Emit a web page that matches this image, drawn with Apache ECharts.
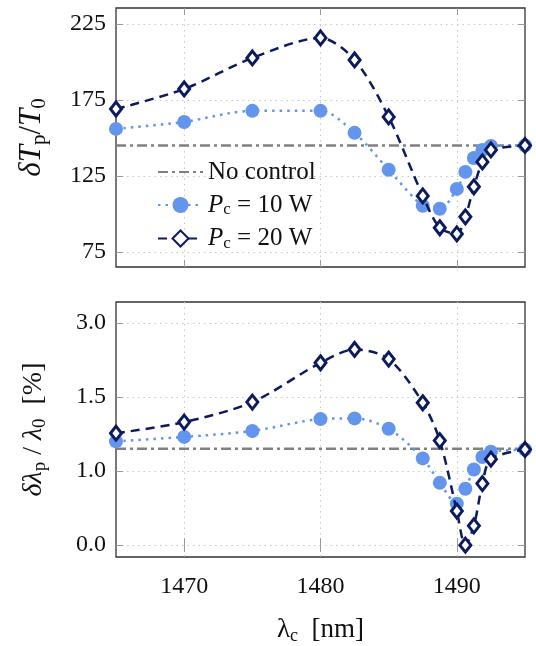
<!DOCTYPE html>
<html>
<head>
<meta charset="utf-8">
<script src="https://cdn.jsdelivr.net/npm/echarts@6/dist/echarts.min.js"></script>
<style>
  html, body { margin: 0; padding: 0; background: #fff; }
  #main { width: 536px; height: 646px; }
</style>
</head>
<body>
<div id="main"></div>
<script>
// pump wavelength (nm)
var wavelengths = [1465, 1470, 1475, 1480, 1482.5, 1485, 1487.5, 1488.75, 1490, 1490.625, 1491.25, 1491.875, 1492.5, 1495];

// top panel: dT_p / T_0
var temp10 = [155.9, 160.5, 167.8, 167.8, 153.3, 129, 105.3, 103.3, 116.4, 127.6, 136.8, 142, 144.7, 145];
var temp20 = [169, 182.2, 202.6, 215.8, 201.3, 163.8, 111.8, 90.8, 86.8, 98, 117.8, 134.2, 142.1, 145];
var tempNoControl = 145;
var tempTicks = [75, 125, 175, 225];

// bottom panel: dlambda_p / lambda_0, in axis units (ticks evenly spaced)
var shift10 = [1.40, 1.46, 1.54, 1.70, 1.71, 1.57, 1.17, 0.84, 0.56, 0.76, 1.02, 1.19, 1.26, 1.29];
var shift20 = [1.51, 1.66, 1.93, 2.46, 2.64, 2.51, 1.92, 1.41, 0.46, 0.00, 0.26, 0.83, 1.16, 1.29];
var shiftNoControl = 1.30;
var shiftTicks = [0, 1, 2, 3];
var shiftTickLabels = ['0.0', '1.0', '1.5', '3.0'];

var xTicks = [1470, 1480, 1490];
var xMin = 1465, xMax = 1495;

var serif = 'Liberation Serif';
var navy = '#0d1b5e';
var blue = '#6495ed';
var gray = '#808080';

function pairs(xs, ys) {
    return xs.map(function(x, i) { return [x, ys[i]]; });
}

function xAxisFor(grid, pos, withLabels) {
    return {
        type: 'value', gridIndex: grid, position: pos, min: xMin, max: xMax,
        axisLine: { show: false },
        axisTick: { show: true, inside: true, length: 7, customValues: xTicks, lineStyle: { color: '#999', width: 1 } },
        axisLabel: {
            show: withLabels, customValues: xTicks, formatter: function(v) { return String(v); },
            fontFamily: serif, fontSize: 24, color: '#111', margin: 18
        },
        splitLine: { show: pos === 'bottom', lineStyle: { type: [1.5, 4], color: '#c8c8c8', width: 1 } }
    };
}

function yAxisFor(grid, pos, min, max, ticks, fmt, name, nameSize) {
    return {
        type: 'value', gridIndex: grid, position: pos, min: min, max: max,
        name: pos === 'left' ? name : '',
        nameLocation: 'middle', nameRotate: 90, nameGap: 66,
        nameTextStyle: {
            fontFamily: serif, fontSize: nameSize, color: '#111',
            rich: {
                i: { fontFamily: serif, fontStyle: 'italic', fontSize: nameSize, color: '#111' },
                n: { fontFamily: serif, fontSize: nameSize, color: '#111' },
                s: { fontFamily: serif, fontSize: Math.round(nameSize * 0.68), color: '#111', padding: [Math.round(nameSize * 0.5), 0, 0, 0] }
            }
        },
        axisLine: { show: false },
        axisTick: { show: true, inside: true, length: 7, customValues: ticks, lineStyle: { color: '#999', width: 1 } },
        axisLabel: { show: pos === 'left', customValues: ticks, formatter: fmt, fontFamily: serif, fontSize: 24, color: '#111', margin: 10 },
        splitLine: { show: pos === 'left', lineStyle: { type: [1.5, 4], color: '#c8c8c8', width: 1 } }
    };
}

function noControl(xi, yi, level, withName) {
    return {
        name: withName ? 'No control' : 'nc' + xi, type: 'line', xAxisIndex: xi, yAxisIndex: yi,
        data: [[xMin, level], [xMax, level]], symbol: 'none', silent: true, z: 1,
        itemStyle: { color: gray },
        lineStyle: { color: gray, width: 2.5, type: [10, 4, 3, 4] }
    };
}

function pc10(xi, yi, values) {
    return {
        name: 'P10', type: 'line', xAxisIndex: xi, yAxisIndex: yi,
        data: pairs(wavelengths, values), smooth: 0.3, z: 2,
        symbol: 'circle', symbolSize: 14,
        itemStyle: { color: blue },
        lineStyle: { color: blue, width: 2.5, type: [2.5, 5] }
    };
}

function pc20(xi, yi, values) {
    return {
        name: 'P20', type: 'line', xAxisIndex: xi, yAxisIndex: yi,
        data: pairs(wavelengths, values), smooth: 0.3, z: 3,
        symbol: 'diamond', symbolSize: [11, 14],
        itemStyle: { color: '#fff', borderColor: navy, borderWidth: 3 },
        lineStyle: { color: navy, width: 2.5, type: [9, 6] }
    };
}

var legendNames = {
    'No control': '{n|No control}',
    'P10': '{i|P}{s|c}{n| = 10 W}',
    'P20': '{i|P}{s|c}{n| = 20 W}'
};

var chart = echarts.init(document.getElementById('main'));
var option = {
    animation: false,
    backgroundColor: '#fff',
    grid: [
        { left: 116, right: 11, top: 8, height: 259, show: true, borderColor: '#333', borderWidth: 1.3, containLabel: false },
        { left: 116, right: 11, top: 302, height: 257, show: true, borderColor: '#333', borderWidth: 1.3, containLabel: false }
    ],
    legend: {
        orient: 'vertical', left: 152, top: 154, itemGap: 7,
        itemWidth: 45, itemHeight: 20,
        data: [
            { name: 'No control', itemStyle: { opacity: 0 } },
            'P10',
            'P20'
        ],
        formatter: function(name) { return legendNames[name]; },
        textStyle: {
            fontFamily: serif, fontSize: 25, color: '#111', lineHeight: 26,
            rich: {
                i: { fontFamily: serif, fontStyle: 'italic', fontSize: 25, color: '#111' },
                n: { fontFamily: serif, fontSize: 25, color: '#111' },
                s: { fontFamily: serif, fontSize: 17, color: '#111', padding: [10, 0, 0, 0] }
            }
        }
    },
    xAxis: [
        xAxisFor(0, 'bottom', false),
        xAxisFor(0, 'top', false),
        Object.assign(xAxisFor(1, 'bottom', true), {
            name: '{i|λ}{s|c}{n|  [nm]}', nameLocation: 'middle', nameGap: 58,
            nameTextStyle: {
                fontFamily: serif, fontSize: 27, color: '#111',
                rich: {
                    i: { fontFamily: serif, fontSize: 27, color: '#111' },
                    n: { fontFamily: serif, fontSize: 27, color: '#111' },
                    s: { fontFamily: serif, fontSize: 18, color: '#111', padding: [12, 0, 0, 0] }
                }
            }
        }),
        xAxisFor(1, 'top', false)
    ],
    yAxis: [
        yAxisFor(0, 'left', 65, 235.5, tempTicks, null, '{i|δT}{s|p}{n|/}{i|T}{s|0}', 31),
        yAxisFor(0, 'right', 65, 235.5, tempTicks, null, '', 31),
        yAxisFor(1, 'left', -0.16, 3.28, shiftTicks, function(v) {
            return shiftTickLabels[shiftTicks.indexOf(v)];
        }, '{i|δλ}{s|p}{n| / }{i|λ}{s|0}{n|  [%]}', 28),
        yAxisFor(1, 'right', -0.16, 3.28, shiftTicks, function() { return ''; }, '', 28)
    ],
    series: [
        noControl(0, 0, tempNoControl, true),
        pc10(0, 0, temp10),
        pc20(0, 0, temp20),
        noControl(2, 2, shiftNoControl, false),
        pc10(2, 2, shift10),
        pc20(2, 2, shift20)
    ]
};
chart.setOption(option);
</script>
</body>
</html>
